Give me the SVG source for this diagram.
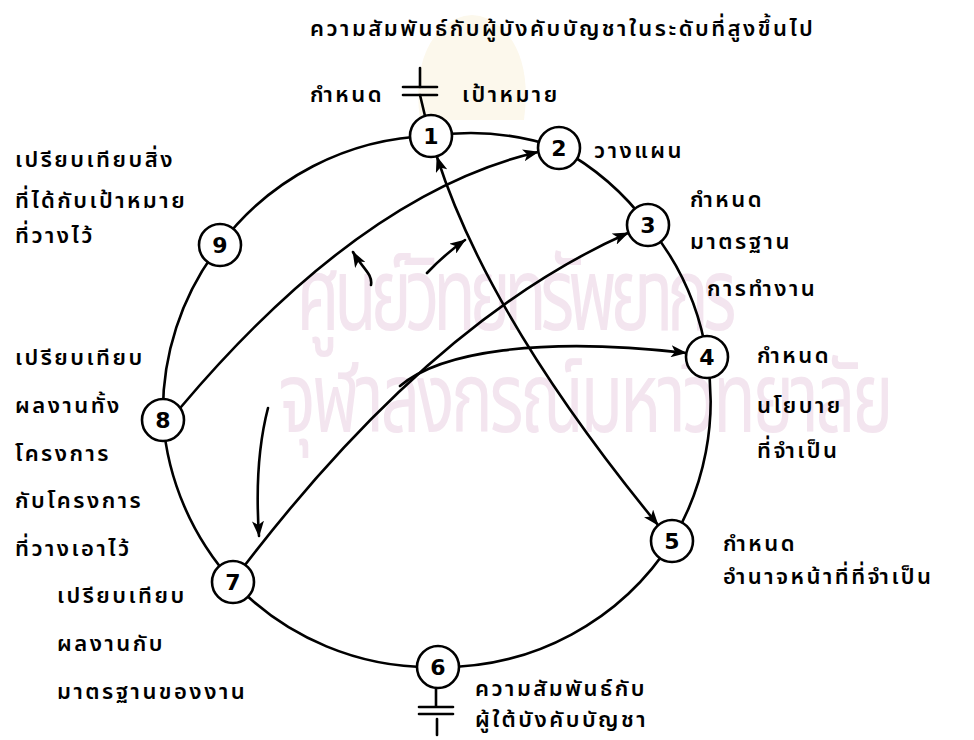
<svg xmlns="http://www.w3.org/2000/svg" width="974" height="740" viewBox="0 0 974 740">
<style>
.t{font-family:"Noto Sans Thai","Noto Sans","DejaVu Sans",sans-serif;font-size:22px;font-weight:600;fill:#000;letter-spacing:2.5px}
.wm{font-family:"Noto Sans Thai","Noto Sans","DejaVu Sans",sans-serif;font-size:70px;fill:#f3e5ef}
.n circle{fill:#fff;stroke:#000;stroke-width:2.6}
.n text{font-family:"DejaVu Sans",sans-serif;font-size:22px;font-weight:bold;text-anchor:middle;fill:#000}
.c path,.c line{fill:none;stroke:#000;stroke-width:2.6;stroke-linecap:round}
</style>
<defs>
<marker id="ah" viewBox="0 0 16 12" refX="15" refY="6" markerWidth="16" markerHeight="12" markerUnits="userSpaceOnUse" orient="auto-start-reverse">
<path d="M0,0 L16,6 L0,12 L4,6 Z" fill="#000"/>
</marker>
</defs>
<rect width="974" height="740" fill="#fff"/>
<g id="watermark">
<path d="M420,120 Q412,60 440,30 Q472,0 504,30 Q532,60 524,120 Z" fill="#fcf8ec"/>
<text class="wm" transform="translate(290,330) scale(1,1.45)" textLength="440">ศูนย์วิทยทรัพยากร</text>
<text class="wm" transform="translate(275,432) scale(1,1.4)" textLength="615">จุฬาลงกรณ์มหาวิทยาลัย</text>
</g>
<g id="connectors" class="c">
<path d="M431,136 A272,272 0 0 1 559,148"/>
<path d="M559,148 A272,272 0 0 1 648,225"/>
<path d="M648,225 A272,272 0 0 1 707,357"/>
<path d="M707,357 A272,272 0 0 1 672,541"/>
<path d="M672,541 A272,272 0 0 1 438,667"/>
<path d="M438,667 A272,272 0 0 1 233,582"/>
<path d="M233,582 A272,272 0 0 1 163,420"/>
<path d="M163,420 A272,272 0 0 1 220,245"/>
<path d="M220,245 A272,272 0 0 1 431,136"/>
<path d="M181,407 Q362,193 538,152" marker-end="url(#ah)"/>
<path d="M245,565 Q434,319 628,233" marker-end="url(#ah)"/>
<path d="M400,386 C440,352 540,336 686,353" marker-end="url(#ah)"/>
<path d="M437,157 Q489,319 658,525" marker-start="url(#ah)" marker-end="url(#ah)"/>
<path d="M371,285 C373,274 362,268 353,252" marker-end="url(#ah)"/>
<path d="M427,273 Q445,254 465,240" marker-end="url(#ah)"/>
<path d="M268,408 Q254,462 259,536" marker-end="url(#ah)"/>
<line x1="420" y1="68" x2="420" y2="87"/>
<line x1="403" y1="87" x2="437" y2="87"/>
<line x1="403" y1="95" x2="437" y2="95"/>
<line x1="420" y1="95" x2="425" y2="116"/>
<line x1="436" y1="688" x2="436" y2="706"/>
<line x1="419" y1="707" x2="453" y2="707"/>
<line x1="419" y1="714" x2="453" y2="714"/>
<line x1="437" y1="719" x2="437" y2="735"/>
</g>
<g id="node1" class="n"><circle cx="431" cy="136" r="21"/><text x="431" y="144">1</text></g>
<g id="node2" class="n"><circle cx="559" cy="148" r="21"/><text x="559" y="156">2</text></g>
<g id="node3" class="n"><circle cx="648" cy="225" r="21"/><text x="648" y="233">3</text></g>
<g id="node4" class="n"><circle cx="707" cy="357" r="21"/><text x="707" y="365">4</text></g>
<g id="node5" class="n"><circle cx="672" cy="541" r="21"/><text x="672" y="549">5</text></g>
<g id="node6" class="n"><circle cx="438" cy="667" r="21"/><text x="438" y="675">6</text></g>
<g id="node7" class="n"><circle cx="233" cy="582" r="21"/><text x="233" y="590">7</text></g>
<g id="node8" class="n"><circle cx="163" cy="420" r="21"/><text x="163" y="428">8</text></g>
<g id="node9" class="n"><circle cx="220" cy="245" r="21"/><text x="220" y="253">9</text></g>
<g id="labels">
<text class="t" x="310" y="36">ความสัมพันธ์กับผู้บังคับบัญชาในระดับที่สูงขึ้นไป</text>
<text class="t" x="310" y="102">กำหนด</text>
<text class="t" x="462" y="102">เป้าหมาย</text>
<text class="t" x="594" y="158">วางแผน</text>
<text class="t" x="690" y="207">กำหนด</text>
<text class="t" x="690" y="249">มาตรฐาน</text>
<text class="t" x="707" y="296">การทำงาน</text>
<text class="t" x="757" y="363">กำหนด</text>
<text class="t" x="757" y="413">นโยบาย</text>
<text class="t" x="757" y="458">ที่จำเป็น</text>
<text class="t" x="723" y="551">กำหนด</text>
<text class="t" x="723" y="584">อำนาจหน้าที่ที่จำเป็น</text>
<text class="t" x="475" y="696">ความสัมพันธ์กับ</text>
<text class="t" x="475" y="727">ผู้ใต้บังคับบัญชา</text>
<text class="t" x="57" y="603">เปรียบเทียบ</text>
<text class="t" x="57" y="651">ผลงานกับ</text>
<text class="t" x="57" y="699">มาตรฐานของงาน</text>
<text class="t" x="15" y="365">เปรียบเทียบ</text>
<text class="t" x="15" y="413">ผลงานทั้ง</text>
<text class="t" x="15" y="461">โครงการ</text>
<text class="t" x="15" y="508">กับโครงการ</text>
<text class="t" x="15" y="556">ที่วางเอาไว้</text>
<text class="t" x="15" y="167">เปรียบเทียบสิ่ง</text>
<text class="t" x="15" y="208">ที่ได้กับเป้าหมาย</text>
<text class="t" x="15" y="243">ที่วางไว้</text>
</g>
</svg>
